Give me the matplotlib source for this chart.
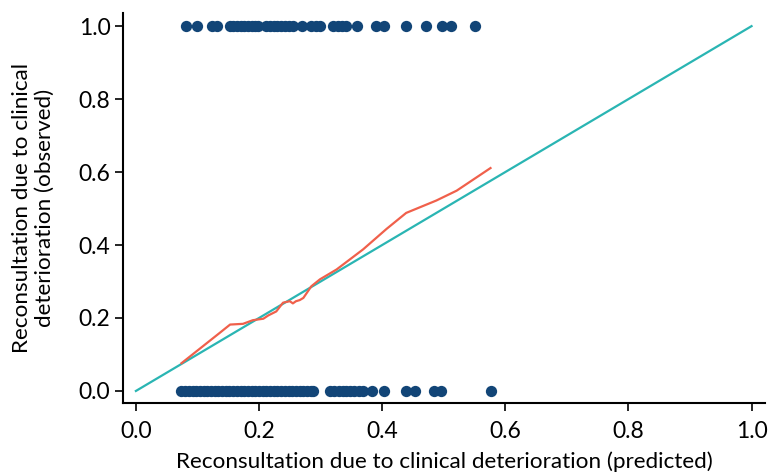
import matplotlib
matplotlib.use("Agg")
import matplotlib.pyplot as plt

plt.rcParams['font.family'] = ['Lato', 'DejaVu Sans']

# observed = 1 (predicted probabilities)
pred_pos = [0.082, 0.100, 0.123, 0.131, 0.153, 0.158, 0.164, 0.170, 0.176, 0.182,
            0.188, 0.194, 0.198, 0.212, 0.218, 0.224, 0.230, 0.236, 0.242, 0.248,
            0.255, 0.269, 0.285, 0.293, 0.299, 0.320, 0.328, 0.335, 0.342, 0.359,
            0.390, 0.403, 0.439, 0.471, 0.498, 0.512, 0.550]

# observed = 0 (predicted probabilities)
pred_neg = [0.074, 0.080, 0.086, 0.092, 0.098, 0.104, 0.110, 0.116, 0.122, 0.128,
            0.134, 0.140, 0.146, 0.152, 0.158, 0.164, 0.170, 0.176, 0.182, 0.188,
            0.194, 0.200, 0.206, 0.212, 0.218, 0.224, 0.230, 0.236, 0.242, 0.248,
            0.254, 0.260, 0.266, 0.272, 0.278, 0.284, 0.288, 0.315, 0.322, 0.330,
            0.336, 0.342, 0.347, 0.354, 0.362, 0.369, 0.384, 0.403, 0.439, 0.453,
            0.484, 0.496, 0.576]

# smoothed calibration curve
curve_x = [0.074, 0.136, 0.153, 0.174, 0.190, 0.207, 0.215, 0.228, 0.239, 0.250,
           0.255, 0.260, 0.266, 0.272, 0.285, 0.299, 0.326, 0.369, 0.407, 0.439,
           0.488, 0.521, 0.576]
curve_y = [0.076, 0.159, 0.182, 0.184, 0.194, 0.198, 0.207, 0.218, 0.242, 0.246,
           0.240, 0.246, 0.249, 0.255, 0.287, 0.306, 0.333, 0.388, 0.444, 0.488,
           0.522, 0.549, 0.611]

fig = plt.figure(figsize=(7.71, 4.73), dpi=100)
ax = fig.add_axes([0.1595, 0.148, 0.8325, 0.8245])

ax.plot([0, 1], [0, 1], color='#2ab5b3', lw=1.6, zorder=2)
ax.plot(curve_x, curve_y, color='#f0604b', lw=1.6, zorder=3)
ax.scatter(pred_pos, [1.0] * len(pred_pos), s=66, color='#124577', lw=0, zorder=4)
ax.scatter(pred_neg, [0.0] * len(pred_neg), s=66, color='#124577', lw=0, zorder=4)

ax.set_xlim(-0.021, 1.0216)
ax.set_ylim(-0.033, 1.036)
ax.set_xticks([0, 0.2, 0.4, 0.6, 0.8, 1.0])
ax.set_yticks([0, 0.2, 0.4, 0.6, 0.8, 1.0])
ax.set_xticklabels(['0.0', '0.2', '0.4', '0.6', '0.8', '1.0'])
ax.set_yticklabels(['0.0', '0.2', '0.4', '0.6', '0.8', '1.0'])
ax.spines['top'].set_visible(False)
ax.spines['right'].set_visible(False)
ax.spines['left'].set_linewidth(1.5)
ax.spines['bottom'].set_linewidth(1.5)
ax.tick_params(axis='both', labelsize=16.5, width=1.2, length=6, color='black', pad=3)
ax.tick_params(axis='x', pad=7)

ax.set_xlabel('Reconsultation due to clinical deterioration (predicted)', fontsize=16.2, labelpad=7)
ax.set_ylabel('Reconsultation due to clinical\ndeterioration (observed)', fontsize=16.2, labelpad=17)

fig.savefig('out.png', dpi=100)
